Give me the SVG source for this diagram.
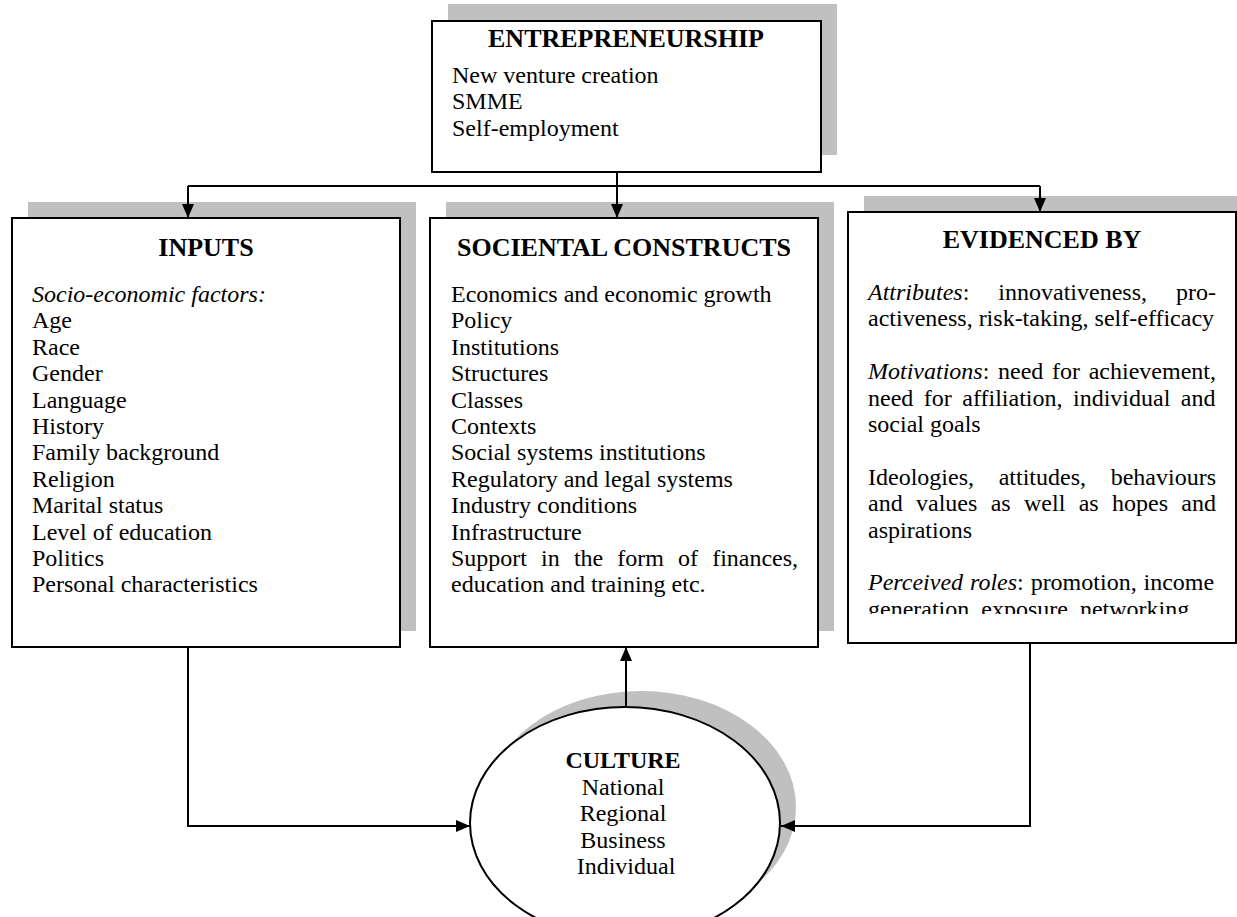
<svg xmlns="http://www.w3.org/2000/svg" width="1237" height="917" viewBox="0 0 1237 917">
  <style>
    .shadow { fill: #c0c0c0; }
    .box { fill: #ffffff; stroke: #000000; stroke-width: 2; }
    .hd { font-family: "Liberation Serif", "Times New Roman", serif; font-weight: bold; font-size: 26px; fill: #000; }
    .tx { font-family: "Liberation Serif", "Times New Roman", serif; font-size: 24px; fill: #000; }
    .it { font-style: italic; }
    .conn { fill: none; stroke: #000000; stroke-width: 2; }
  </style>
  <defs>
    <marker id="arrow" viewBox="0 0 14 12" refX="14" refY="6" markerUnits="userSpaceOnUse" markerWidth="14" markerHeight="12" orient="auto">
      <path d="M0,0 L14,6 L0,12 z" fill="#000"/>
    </marker>
    <clipPath id="evidClip">
      <rect x="848" y="212" width="388" height="402"/>
    </clipPath>
  </defs>
  <rect width="1237" height="917" fill="#ffffff"/>

  <!-- top node -->
  <g id="entrepreneurship">
    <rect class="shadow" x="448" y="4" width="389" height="151"/>
    <rect class="box" x="432" y="21" width="389" height="151"/>
    <text class="hd" x="626" y="47" text-anchor="middle">ENTREPRENEURSHIP</text>
    <text class="tx" x="452" y="83">New venture creation</text>
    <text class="tx" x="452" y="109.4">SMME</text>
    <text class="tx" x="452" y="135.8">Self-employment</text>
  </g>

  <!-- left node -->
  <g id="inputs">
    <rect class="shadow" x="28" y="202" width="388" height="429"/>
    <rect class="box" x="12" y="218" width="388" height="429"/>
    <text class="hd" x="206" y="256" text-anchor="middle">INPUTS</text>
    <text class="tx">
      <tspan class="it" x="32" y="302">Socio-economic factors:</tspan>
      <tspan x="32" y="328.4">Age</tspan>
      <tspan x="32" y="354.8">Race</tspan>
      <tspan x="32" y="381.2">Gender</tspan>
      <tspan x="32" y="407.6">Language</tspan>
      <tspan x="32" y="434">History</tspan>
      <tspan x="32" y="460.4">Family background</tspan>
      <tspan x="32" y="486.8">Religion</tspan>
      <tspan x="32" y="513.2">Marital status</tspan>
      <tspan x="32" y="539.6">Level of education</tspan>
      <tspan x="32" y="566">Politics</tspan>
      <tspan x="32" y="592.4">Personal characteristics</tspan>
    </text>
  </g>

  <!-- middle node -->
  <g id="societal-constructs">
    <rect class="shadow" x="446" y="202" width="388" height="429"/>
    <rect class="box" x="430" y="218" width="388" height="429"/>
    <text class="hd" x="624" y="256" text-anchor="middle">SOCIENTAL CONSTRUCTS</text>
    <text class="tx">
      <tspan x="451" y="302">Economics and economic growth</tspan>
      <tspan x="451" y="328.4">Policy</tspan>
      <tspan x="451" y="354.8">Institutions</tspan>
      <tspan x="451" y="381.2">Structures</tspan>
      <tspan x="451" y="407.6">Classes</tspan>
      <tspan x="451" y="434">Contexts</tspan>
      <tspan x="451" y="460.4">Social systems institutions</tspan>
      <tspan x="451" y="486.8">Regulatory and legal systems</tspan>
      <tspan x="451" y="513.2">Industry conditions</tspan>
      <tspan x="451" y="539.6">Infrastructure</tspan>
    </text>
    <text class="tx" x="451" y="566" word-spacing="8.1">Support in the form of finances,</text>
    <text class="tx" x="451" y="592.4">education and training etc.</text>
  </g>

  <!-- right node -->
  <g id="evidenced-by">
    <rect class="shadow" x="864" y="196" width="388" height="431"/>
    <rect class="box" x="848" y="212" width="388" height="431"/>
    <text class="hd" x="1042" y="248" text-anchor="middle">EVIDENCED BY</text>
    <g clip-path="url(#evidClip)">
      <text class="tx" x="868" y="300" word-spacing="23"><tspan class="it">Attributes</tspan>: innovativeness, pro-</text>
      <text class="tx" x="868" y="326.4">activeness, risk-taking, self-efficacy</text>
      <text class="tx" x="868" y="379.2" word-spacing="2.7"><tspan class="it">Motivations</tspan>: need for achievement,</text>
      <text class="tx" x="868" y="405.6" word-spacing="4.5">need for affiliation, individual and</text>
      <text class="tx" x="868" y="432">social goals</text>
      <text class="tx" x="868" y="484.8" word-spacing="18.7">Ideologies, attitudes, behaviours</text>
      <text class="tx" x="868" y="511.2" word-spacing="7.35">and values as well as hopes and</text>
      <text class="tx" x="868" y="537.6">aspirations</text>
      <text class="tx" x="868" y="590.4" word-spacing="0.9"><tspan class="it">Perceived roles</tspan>: promotion, income</text>
      <text class="tx" x="868" y="616.8">generation, exposure, networking</text>
    </g>
  </g>

  <!-- bottom node -->
  <g id="culture">
    <ellipse class="shadow" cx="641" cy="807" rx="155" ry="116"/>
    <ellipse class="box" cx="625" cy="823" rx="155" ry="116"/>
    <text class="tx" text-anchor="middle">
      <tspan x="626" y="768" font-weight="bold">CULTURE</tspan>
      <tspan x="626" y="794.6">National</tspan>
      <tspan x="626" y="821.2">Regional</tspan>
      <tspan x="626" y="847.8">Business</tspan>
      <tspan x="626" y="874.4">Individual</tspan>
    </text>
  </g>

  <!-- connectors -->
  <g id="connectors">
    <path class="conn" d="M617,172 V218" marker-end="url(#arrow)"/>
    <path class="conn" d="M188,186 H1040"/>
    <path class="conn" d="M188,186 V218" marker-end="url(#arrow)"/>
    <path class="conn" d="M1040,186 V212" marker-end="url(#arrow)"/>
    <path class="conn" d="M626,707 V647" marker-end="url(#arrow)"/>
    <path class="conn" d="M188,647 V826 H470" marker-end="url(#arrow)"/>
    <path class="conn" d="M1030,643 V826 H781" marker-end="url(#arrow)"/>
  </g>
</svg>
